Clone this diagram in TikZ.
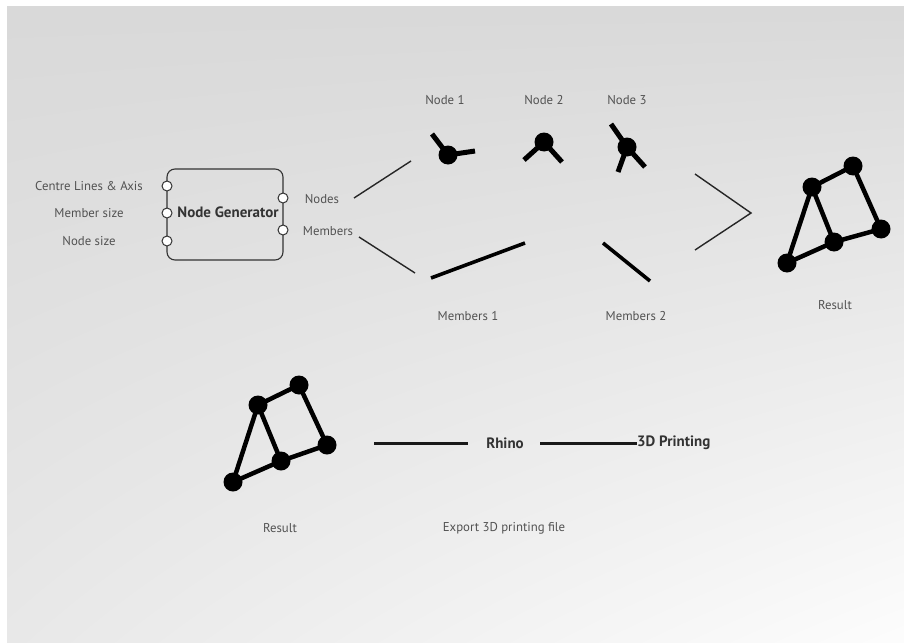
\documentclass[tikz,border=0pt]{standalone}
\usepackage{fontspec}
\setmainfont{PT Sans}
\usetikzlibrary{shadings}
\begin{document}
\begin{tikzpicture}[x=1pt,y=-1pt,
  lbl/.style={text=black!68, font=\fontsize{12.8}{14}\selectfont, inner sep=0pt},
  title/.style={text=black!80, font=\fontsize{15}{17}\selectfont\bfseries, inner sep=0pt},
  port/.style={circle, draw=black!80, fill=white, line width=1pt, minimum size=10pt, inner sep=0pt},
  ball/.style={circle, fill=black, minimum size=19pt, inner sep=0pt},
  joint/.style={circle, fill=black, minimum size=19pt, inner sep=0pt},
  thinlink/.style={line width=1.4pt, black!85},
  bar/.style={line width=3.6pt, black},
  stub/.style={line width=5pt, black},
  strut/.style={line width=4.5pt, black},
  flow/.style={line width=3pt, black!90}]

% page and backdrop
\useasboundingbox (0,0) rectangle (904,642);
\fill[white] (0,0) rectangle (904,642);
\shade[upper left=black!15, upper right=black!15, lower left=black!9, lower right=black!1]
  (7,7) rectangle (904,642);

% generator component
\draw[black!80, line width=1.1pt, rounded corners=8pt] (167,169) rectangle (283,260);
\node[title] (gen) at (228,212) {Node Generator};
\node[port] (in1) at (167,186) {};
\node[port] (in2) at (167,213) {};
\node[port] (in3) at (167,241) {};
\node[port] (out1) at (283,198) {};
\node[port] (out2) at (283,230) {};
\node[lbl, anchor=east] (l1) at (143,186) {Centre Lines \& Axis};
\node[lbl] (l2) at (89,213) {Member size};
\node[lbl] (l3) at (89,241) {Node size};
\node[lbl] (nodes) at (322,199) {Nodes};
\node[lbl] (members) at (328,231) {Members};

% links out of the generator
\coordinate (n0a) at (354,198);
\coordinate (n0b) at (411,161);
\coordinate (m0a) at (359,237);
\coordinate (m0b) at (415,273);
\draw[thinlink] (n0a) -- (n0b);
\draw[thinlink] (m0a) -- (m0b);

% node pieces
\node[lbl] (t1) at (445,100) {Node 1};
\node[lbl] (t2) at (544,100) {Node 2};
\node[lbl] (t3) at (627,100) {Node 3};

\coordinate (k1a) at (432,134);
\coordinate (k1b) at (475,151);
\node[ball] (k1) at (448,155) {};
\draw[stub] (k1.center) -- (k1a);
\draw[stub] (k1.center) -- (k1b);

\node[ball] (k2) at (544,142) {};
\coordinate (k2a) at (524,160);
\coordinate (k2b) at (562,162);
\draw[stub] (k2.center) -- (k2a);
\draw[stub] (k2.center) -- (k2b);

\node[ball] (k3) at (627,147) {};
\coordinate (k3a) at (611,124);
\coordinate (k3b) at (618,172);
\coordinate (k3c) at (645,167);
\draw[stub] (k3.center) -- (k3a);
\draw[stub] (k3.center) -- (k3b);
\draw[stub] (k3.center) -- (k3c);

% member pieces
\coordinate (p1a) at (431,278);
\coordinate (p1b) at (525,243);
\coordinate (p2a) at (603,243);
\coordinate (p2b) at (650,281);
\draw[bar] (p1a) -- (p1b);
\draw[bar] (p2a) -- (p2b);
\node[lbl] (mm1) at (468,316) {Members 1};
\node[lbl] (mm2) at (636,316) {Members 2};

% merge bracket
\coordinate (g1) at (695,174);
\coordinate (g2) at (751,213);
\coordinate (g3) at (695,250);
\draw[thinlink] (g1) -- (g2) -- (g3);

% assembled result
\node[joint] (ra) at (812,187) {};
\node[joint] (rb) at (853,166) {};
\node[joint] (rc) at (881,229) {};
\node[joint] (rd) at (834,242) {};
\node[joint] (re) at (787,263) {};
\draw[strut] (ra.center) -- (rb.center) -- (rc.center) -- (rd.center) -- (re.center) -- cycle;
\draw[strut] (ra.center) -- (rd.center);
\node[lbl] (res1) at (835,305) {Result};

% result in the export row
\node[joint] (sa) at (258,405) {};
\node[joint] (sb) at (299,385) {};
\node[joint] (sc) at (327,445) {};
\node[joint] (sd) at (281,461) {};
\node[joint] (se) at (233,482) {};
\draw[strut] (sa.center) -- (sb.center) -- (sc.center) -- (sd.center) -- (se.center) -- cycle;
\draw[strut] (sa.center) -- (sd.center);
\node[lbl] (res2) at (280,528) {Result};

% export chain
\coordinate (f0) at (374,443);
\node[title] (rhino) at (505,443) {Rhino};
\node[title, anchor=west] (print) at (637,443) {3D Printing};
\draw[flow] (f0) -- (468,443) coordinate (f1);
\draw[flow] (540,443) coordinate (f2) -- (print.west);
\node[lbl] (export) at (504,528) {Export 3D printing file};
\end{tikzpicture}
\end{document}
